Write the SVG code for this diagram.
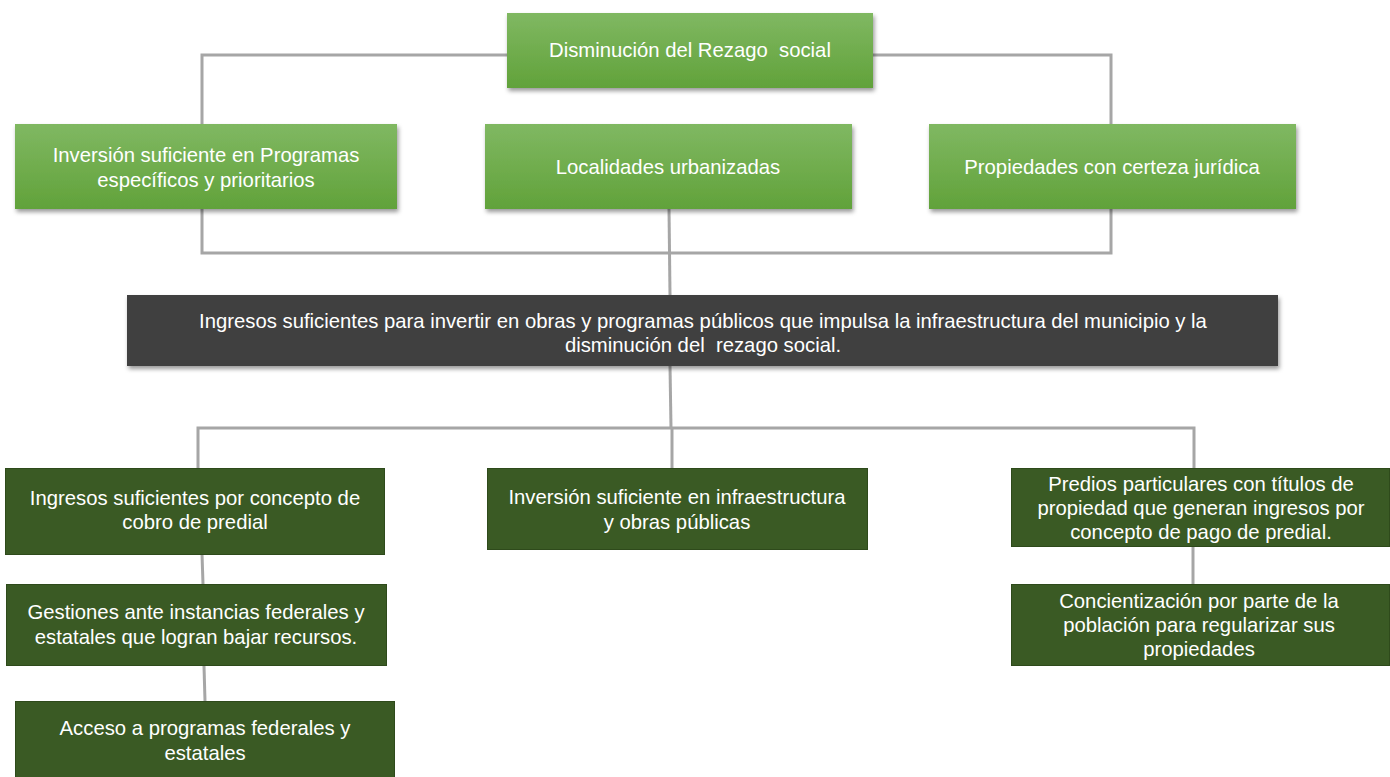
<svg xmlns="http://www.w3.org/2000/svg" width="1390" height="777" viewBox="0 0 1390 777">
<style>
.lg{fill:url(#gLight);filter:url(#sh)}
.dk{fill:#404040;filter:url(#sh)}
.dg{fill:#3a5a24;stroke:#2e4a1b;stroke-width:1}
.t{font-family:"Liberation Sans",Arial,sans-serif;font-size:20.3px;fill:#ffffff;text-anchor:middle;white-space:pre}
.c{fill:none;stroke:#a6a6a6;stroke-width:3}
</style>
<defs>
<linearGradient id="gLight" x1="0" y1="0" x2="0" y2="1">
<stop offset="0" stop-color="#80b862"/>
<stop offset="1" stop-color="#61a23a"/>
</linearGradient>
<filter id="sh" x="-5%" y="-20%" width="110%" height="150%">
<feDropShadow dx="1.5" dy="3" stdDeviation="2" flood-color="#000" flood-opacity="0.4"/>
</filter>
</defs>
<rect width="1390" height="777" fill="#ffffff"/>
<g id="connectors">
<polyline class="c" points="507,55 202,55 202,253 1111,253 1111,55 873,55"/>
<line class="c" x1="669" y1="208" x2="670" y2="295"/>
<line class="c" x1="670" y1="366" x2="671" y2="428"/>
<polyline class="c" points="198,468 198,428 1194,428 1194,469"/>
<line class="c" x1="672" y1="428" x2="672" y2="468"/>
<line class="c" x1="202" y1="554" x2="203" y2="584"/>
<line class="c" x1="204" y1="666" x2="205" y2="701"/>
<line class="c" x1="1193" y1="547" x2="1193" y2="584"/>
</g>
<g id="n-top">
<rect class="lg" x="507" y="13" width="366" height="75"/>
<text class="t" x="690" y="57" xml:space="preserve">Disminución del Rezago  social</text>
</g>
<g id="n-inversion-programas">
<rect class="lg" x="15" y="124" width="382" height="85"/>
<text class="t" x="206" y="162">Inversión suficiente en Programas</text>
<text class="t" x="206" y="187">específicos y prioritarios</text>
</g>
<g id="n-localidades">
<rect class="lg" x="485" y="124" width="367" height="85"/>
<text class="t" x="668" y="174">Localidades urbanizadas</text>
</g>
<g id="n-propiedades">
<rect class="lg" x="929" y="124" width="367" height="85"/>
<text class="t" x="1112" y="174">Propiedades con certeza jurídica</text>
</g>
<g id="n-ingresos">
<rect class="dk" x="127" y="295" width="1151" height="71"/>
<text class="t" x="703" y="328">Ingresos suficientes para invertir en obras y programas públicos que impulsa la infraestructura del municipio y la</text>
<text class="t" x="703" y="352" xml:space="preserve">disminución del  rezago social.</text>
</g>
<g id="n-predial">
<rect class="dg" x="5.5" y="468.5" width="379" height="86"/>
<text class="t" x="195" y="505">Ingresos suficientes por concepto de</text>
<text class="t" x="195" y="529">cobro de predial</text>
</g>
<g id="n-gestiones">
<rect class="dg" x="6.5" y="584.5" width="380" height="81"/>
<text class="t" x="196" y="619">Gestiones ante instancias federales y</text>
<text class="t" x="196" y="644">estatales que logran bajar recursos.</text>
</g>
<g id="n-acceso">
<rect class="dg" x="15.5" y="701.5" width="379" height="80"/>
<text class="t" x="205" y="735">Acceso a programas federales y</text>
<text class="t" x="205" y="760">estatales</text>
</g>
<g id="n-infraestructura">
<rect class="dg" x="487.5" y="468.5" width="380" height="81"/>
<text class="t" x="677" y="504">Inversión suficiente en infraestructura</text>
<text class="t" x="677" y="529">y obras públicas</text>
</g>
<g id="n-predios">
<rect class="dg" x="1011.5" y="468.5" width="378" height="78"/>
<text class="t" x="1201" y="491">Predios particulares con títulos de</text>
<text class="t" x="1201" y="515">propiedad que generan ingresos por</text>
<text class="t" x="1201" y="539">concepto de pago de predial.</text>
</g>
<g id="n-concientizacion">
<rect class="dg" x="1011.5" y="584.5" width="378" height="81"/>
<text class="t" x="1199" y="608">Concientización por parte de la</text>
<text class="t" x="1199" y="632">población para regularizar sus</text>
<text class="t" x="1199" y="656">propiedades</text>
</g>
</svg>
